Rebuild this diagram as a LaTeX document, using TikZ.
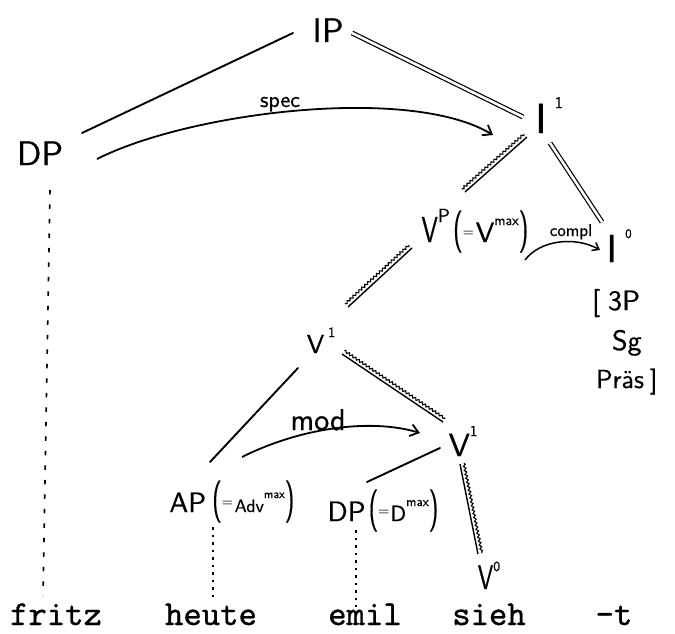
\documentclass[tikz,border=0pt]{standalone}
\usepackage{fontspec}
\usepackage{graphicx}
\usetikzlibrary{arrows.meta,decorations.pathmorphing,calc}
\newfontfamily\handfont{lmsans10-regular.otf}[FakeBold=0.6]
\newfontfamily\wordfont{lmmono10-regular.otf}[FakeBold=0.9]
\newcommand\hsz[1]{\fontsize{#1}{#1}\selectfont}
\newcommand\rsup[3]{\raisebox{#3}{\hsz{#1}#2}}
\newcommand\tpar[1]{\scalebox{0.6}[1]{\hsz{42}#1}}
\newcommand\nv[1]{\scalebox{0.68}[1]{\hsz{#1}V}}
\begin{document}
\begin{tikzpicture}[x=1pt,y=-1pt,
  every node/.style={inner sep=0pt, outer sep=0pt, anchor=base, font=\handfont},
  word/.style={font=\wordfont\hsz{35}},
  tree/.style={line width=1.9pt, line cap=round},
  dbl/.style={double, double distance=2.6pt, line width=1.2pt},
  str/.style={line width=1.4pt},
  wav/.style={line width=1.1pt, decorate, decoration={snake, segment length=4pt, amplitude=1.1pt}},
  dashone/.style={line width=1.6pt, dash pattern=on 4.5pt off 10pt},
  dotone/.style={line width=1.5pt, dash pattern=on 2.5pt off 5pt},
  arr/.style={line width=1.8pt, -{Straight Barb[length=8pt,width=12pt]}},
  arrsmall/.style={line width=1.5pt, -{Straight Barb[length=6pt,width=9pt]}},
]
\useasboundingbox[fill=white] (0,0) rectangle (675,634);

% category nodes
\node (IP) at (328,42) {\hsz{34}IP};
\node (DP) at (40,165) {\hsz{34}DP};
\node (I1) at (549,133) {\hsz{42}I\hspace{8pt}\rsup{16}{1}{25pt}};
\node (VP) at (475,242) {\nv{36}\rsup{19}{P}{20pt}\hspace{3pt}\tpar{(}\rsup{14}{=}{6pt}\hspace{2pt}{\hsz{28}V}\rsup{14}{max}{17pt}\tpar{)}};
\node (I0) at (619,262) {\hsz{39}I\hspace{8pt}\rsup{13}{0}{24pt}};
\node (V1a) at (321,353) {\hsz{26}V\hspace{4pt}\rsup{14}{1}{16pt}};
\node (V1b) at (463,456) {\hsz{32}V\rsup{15}{1}{20pt}};
\node (AP) at (232,512) {{\hsz{28}AP}\hspace{6pt}\tpar{(}\rsup{14}{=}{6pt}\hspace{2pt}{\hsz{18}Adv}\rsup{12}{max}{14pt}\tpar{)}};
\node (DPb) at (383,521) {{\hsz{28}DP}\hspace{3pt}\tpar{(}\rsup{14}{=}{6pt}\hspace{1pt}{\hsz{22}D}\rsup{13}{max}{15pt}\tpar{)}};
\node (V0) at (489,589) {\nv{34}\rsup{14}{0}{18pt}};

% features
\node[anchor=base west] (f1) at (592,310) {\hsz{28}[\hspace{8pt}3P};
\node[anchor=base west] (f2) at (612,350) {\hsz{28}Sg};
\node[anchor=base west] (f3) at (596,388) {\hsz{26}Präs\hspace{6pt}]};

% relation labels
\node (spec) at (280,107) {\hsz{22}spec};
\node (compl) at (571,236) {\hsz{17}compl};
\node (mod) at (318,430) {\hsz{30}mod};

% words
\node[word] (fritz) at (56,625) {fritz};
\node[word] (heute) at (211,625) {heute};
\node[word] (emil) at (365,625) {emil};
\node[word] (sieh) at (489,625) {sieh};
\node[word] (t) at (614,625) {-t};

% connectors
\draw[tree] ([shift={(-35,-9)}]IP.base) -- ([shift={(42,-32)}]DP.base);
\draw[dbl] ([shift={(24,-9)}]IP.base) -- ([shift={(-26,-16)}]I1.base);
\draw[arr] ([shift={(57,-6)}]DP.base) .. controls (190,112) and (410,85) .. ([shift={(-56,2)}]I1.base);
\draw[str] ([shift={(-22,4)}]I1.base) -- ([shift={(-10,-50)}]VP.base);
\draw[wav] ([shift={(-25,1)}]I1.base) -- ([shift={(-13,-53)}]VP.base);
\draw[dbl] ([shift={(1,10)}]I1.base) -- ([shift={(-17,-40)}]I0.base);
\draw[arrsmall] ([shift={(50,18)}]VP.base) .. controls (540,240) and (575,236) .. ([shift={(-19,-12)}]I0.base);
\draw[str] ([shift={(-63,6)}]VP.base) -- ([shift={(27,-46)}]V1a.base);
\draw[wav] ([shift={(-66,3)}]VP.base) -- ([shift={(24,-49)}]V1a.base);
\draw[tree] ([shift={(-23,15)}]V1a.base) -- ([shift={(-22,-50)}]AP.base);
\draw[str] ([shift={(21,1)}]V1a.base) -- ([shift={(-20,-34)}]V1b.base);
\draw[wav] ([shift={(23.3,-2.3)}]V1a.base) -- ([shift={(-17.7,-37.3)}]V1b.base);
\draw[arr] ([shift={(10,-55)}]AP.base) .. controls (300,428) and (370,418) .. ([shift={(-43,-23)}]V1b.base);
\draw[tree] ([shift={(-23,-8)}]V1b.base) -- ([shift={(-16,-39)}]DPb.base);
\draw[str] ([shift={(-3,8)}]V1b.base) -- ([shift={(-11,-35)}]V0.base);
\draw[wav] ([shift={(0.9,7.2)}]V1b.base) -- ([shift={(-7.1,-35.8)}]V0.base);
\draw[dashone] ([shift={(10,25)}]DP.base) -- ([shift={(-13,-29)}]fritz.base);
\draw[dotone] ([shift={(-19,15)}]AP.base) -- ([shift={(2,-26)}]heute.base);
\draw[dotone] ([shift={(-27,9)}]DPb.base) -- ([shift={(-9,-18)}]emil.base);
\end{tikzpicture}
\end{document}
